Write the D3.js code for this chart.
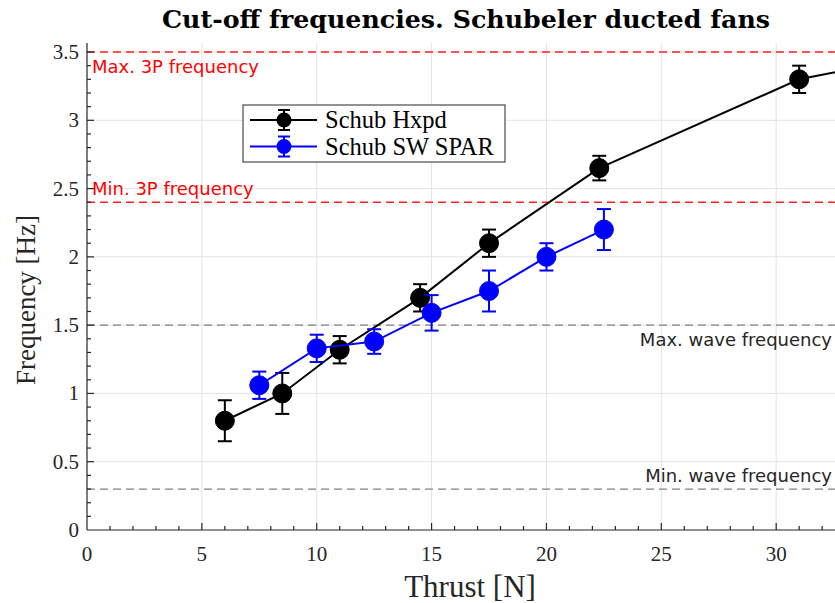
<!DOCTYPE html>
<html><head><meta charset="utf-8">
<script src="https://cdn.jsdelivr.net/npm/d3@7"></script>
<style>body{margin:0;background:#fff}svg{display:block}</style>
</head><body>
<script>
// ---- data ----
const hxpdThrust = [6, 8.5, 11, 14.5, 17.5, 22.3, 31, 40];
const hxpdFreq   = [0.80, 1.00, 1.32, 1.70, 2.10, 2.65, 3.30, 3.60];
const hxpdErr    = [0.15, 0.15, 0.10, 0.10, 0.10, 0.09, 0.10, 0.10];
const sparThrust = [7.5, 10, 12.5, 15, 17.5, 20, 22.5];
const sparFreq   = [1.06, 1.33, 1.38, 1.59, 1.75, 2.00, 2.20];
const sparErr    = [0.10, 0.10, 0.09, 0.13, 0.15, 0.10, 0.15];
const seriesNames = ["Schub Hxpd", "Schub SW SPAR"];
const refLevels = [3.5, 2.4, 1.5, 0.3];
const refLabels = ["Max. 3P frequency", "Min. 3P frequency", "Max. wave frequency", "Min. wave frequency"];
const xTicks = [0, 5, 10, 15, 20, 25, 30];
const yTicks = [0, 0.5, 1, 1.5, 2, 2.5, 3, 3.5];
const yTickLabels = ["0", "0.5", "1", "1.5", "2", "2.5", "3", "3.5"];

const W = 835, H = 603;
const L = 87, R = 835, T = 43, B = 530;
const svg = d3.select("body").append("svg").attr("width", W).attr("height", H);
const x = d3.scaleLinear().domain([0, 32.56]).range([L, R]);
const y = d3.scaleLinear().domain([0, 3.566]).range([B, T]);

svg.append("clipPath").attr("id", "clip").append("rect")
  .attr("x", L).attr("y", T).attr("width", R - L).attr("height", B - T);

// grid
const g = svg.append("g");
g.selectAll(".gx").data(xTicks.slice(1)).join("line")
  .attr("x1", d => x(d)).attr("x2", d => x(d)).attr("y1", T).attr("y2", B)
  .attr("stroke", "#e3e3e3").attr("stroke-width", 1);
g.selectAll(".gy").data(yTicks.slice(1)).join("line")
  .attr("y1", d => y(d)).attr("y2", d => y(d)).attr("x1", L).attr("x2", R)
  .attr("stroke", "#e3e3e3").attr("stroke-width", 1);

// reference lines
const refColors = ["#ff2020", "#ff2020", "#808080", "#808080"];
g.selectAll(".ref").data(refLevels).join("line")
  .attr("x1", L).attr("x2", R).attr("y1", d => y(d)).attr("y2", d => y(d))
  .attr("stroke", (d, i) => refColors[i]).attr("stroke-width", 1.3)
  .attr("stroke-dasharray", "8,5");

// ref labels
const refText = [
  {anchor: "start", x: L + 5, dy: 21},
  {anchor: "start", x: L + 5, dy: -7},
  {anchor: "end", x: R - 3, dy: 21},
  {anchor: "end", x: R - 3, dy: -7}
];
const refTextColors = ["#ff0000", "#ff0000", "#262626", "#262626"];
svg.selectAll(".reft").data(refLevels).join("text")
  .attr("x", (d, i) => refText[i].x).attr("y", (d, i) => y(d) + refText[i].dy)
  .attr("text-anchor", (d, i) => refText[i].anchor)
  .attr("font-family", "DejaVu Sans").attr("font-size", 18)
  .attr("fill", (d, i) => refTextColors[i])
  .text((d, i) => refLabels[i]);

// axes
const ax = svg.append("g").attr("stroke", "#262626").attr("stroke-width", 1.2);
ax.append("line").attr("x1", L).attr("x2", R).attr("y1", B).attr("y2", B);
ax.append("line").attr("x1", L).attr("x2", L).attr("y1", T).attr("y2", B);
const xMinor = d3.range(1, 33, 1);
const yMinor = d3.range(0.1, 3.56, 0.1);
ax.selectAll(".xm").data(xMinor).join("line")
  .attr("x1", d => x(d)).attr("x2", d => x(d)).attr("y1", B).attr("y2", d => B - (d % 5 === 0 ? 7 : 4));
ax.selectAll(".ym").data(yMinor).join("line")
  .attr("y1", d => y(d)).attr("y2", d => y(d)).attr("x1", L).attr("x2", d => L + (Math.abs(d * 2 - Math.round(d * 2)) < 1e-6 ? 7 : 4));

svg.selectAll(".xt").data(xTicks).join("text")
  .attr("x", d => x(d)).attr("y", B + 31).attr("text-anchor", "middle")
  .attr("font-family", "Liberation Serif").attr("font-size", 21).attr("fill", "#262626")
  .text(d => d);
svg.selectAll(".yt").data(yTicks).join("text")
  .attr("x", L - 8).attr("y", d => y(d) + 7).attr("text-anchor", "end")
  .attr("font-family", "Liberation Serif").attr("font-size", 21).attr("fill", "#262626")
  .text((d, i) => yTickLabels[i]);

svg.append("text").attr("x", 470).attr("y", 597).attr("text-anchor", "middle")
  .attr("font-family", "Liberation Serif").attr("font-size", 31).attr("fill", "#262626")
  .text("Thrust [N]");
svg.append("text").attr("transform", `translate(35,300) rotate(-90)`)
  .attr("text-anchor", "middle")
  .attr("font-family", "Liberation Serif").attr("font-size", 27).attr("fill", "#262626")
  .text("Frequency [Hz]");
svg.append("text").attr("x", 466).attr("y", 28).attr("text-anchor", "middle")
  .attr("font-family", "DejaVu Serif").attr("font-weight", "bold").attr("font-size", 25).attr("fill", "#000")
  .attr("textLength", 608).attr("lengthAdjust", "spacingAndGlyphs")
  .text("Cut-off frequencies. Schubeler ducted fans");

// series
function drawSeries(xs, ys, es, color) {
  const pts = xs.map((d, i) => ({x: d, y: ys[i], e: es[i]}));
  const sg = svg.append("g").attr("clip-path", "url(#clip)");
  sg.append("path").datum(pts)
    .attr("d", d3.line().x(d => x(d.x)).y(d => y(d.y)))
    .attr("fill", "none").attr("stroke", color).attr("stroke-width", 2);
  const eb = sg.selectAll(".eb").data(pts).join("g").attr("stroke", color).attr("stroke-width", 2);
  eb.append("line").attr("x1", d => x(d.x)).attr("x2", d => x(d.x))
    .attr("y1", d => y(d.y - d.e)).attr("y2", d => y(d.y + d.e));
  eb.append("line").attr("x1", d => x(d.x) - 7).attr("x2", d => x(d.x) + 7)
    .attr("y1", d => y(d.y - d.e)).attr("y2", d => y(d.y - d.e));
  eb.append("line").attr("x1", d => x(d.x) - 7).attr("x2", d => x(d.x) + 7)
    .attr("y1", d => y(d.y + d.e)).attr("y2", d => y(d.y + d.e));
  sg.selectAll(".mk").data(pts).join("circle")
    .attr("cx", d => x(d.x)).attr("cy", d => y(d.y)).attr("r", 9.5)
    .attr("fill", color).attr("stroke", color).attr("stroke-width", 1);
}
drawSeries(hxpdThrust, hxpdFreq, hxpdErr, "#000000");
drawSeries(sparThrust, sparFreq, sparErr, "#0000ff");

// legend
const lg = svg.append("g");
lg.append("rect").attr("x", 243).attr("y", 105).attr("width", 262).attr("height", 57)
  .attr("fill", "#fff").attr("stroke", "#262626").attr("stroke-width", 1);
const legColors = ["#000000", "#0000ff"];
seriesNames.forEach((name, i) => {
  const cy = 120 + i * 26.5;
  const c = legColors[i];
  lg.append("line").attr("x1", 250).attr("x2", 317).attr("y1", cy).attr("y2", cy).attr("stroke", c).attr("stroke-width", 2);
  lg.append("line").attr("x1", 284).attr("x2", 284).attr("y1", cy - 10).attr("y2", cy + 10).attr("stroke", c).attr("stroke-width", 2);
  lg.append("line").attr("x1", 278).attr("x2", 290).attr("y1", cy - 10).attr("y2", cy - 10).attr("stroke", c).attr("stroke-width", 2);
  lg.append("line").attr("x1", 278).attr("x2", 290).attr("y1", cy + 10).attr("y2", cy + 10).attr("stroke", c).attr("stroke-width", 2);
  lg.append("circle").attr("cx", 284).attr("cy", cy).attr("r", 7.5).attr("fill", c);
  lg.append("text").attr("x", 325).attr("y", cy + 8).attr("font-family", "Liberation Serif")
    .attr("font-size", 24.5).attr("fill", "#000").text(name);
});
</script>
</body></html>
